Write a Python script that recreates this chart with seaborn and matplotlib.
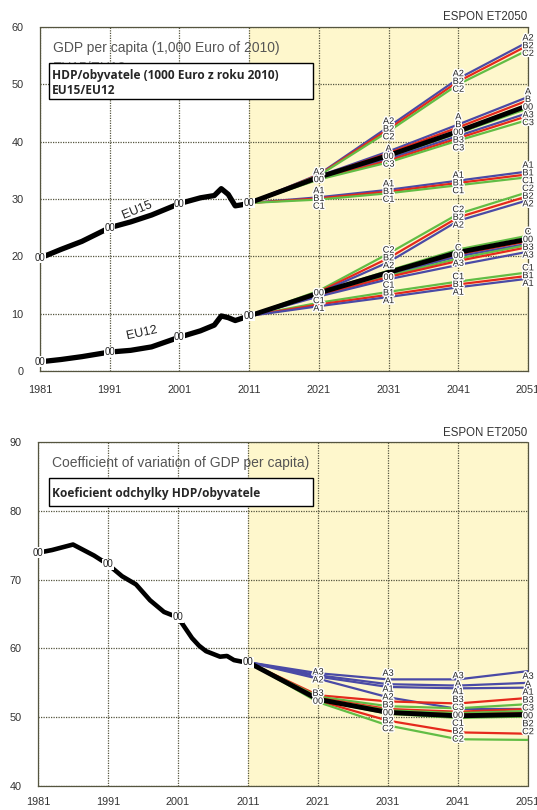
import numpy as np
import pandas as pd
import seaborn as sns
import matplotlib.pyplot as plt
import matplotlib.patheffects as pe
from matplotlib.patches import Rectangle

sns.set_style("white")
plt.rcParams['font.family'] = ['Liberation Sans', 'DejaVu Sans']

# historical GDP per capita (1000 Euro of 2010)
hist_years = [1981, 1984, 1987, 1991, 1994, 1997, 2001, 2004, 2006, 2007, 2008, 2009, 2010, 2011]
eu15_hist = [19.7, 21.2, 22.6, 25.0, 26.0, 27.2, 29.2, 30.2, 30.6, 31.8, 30.8, 28.8, 29.0, 29.3]
eu12_hist = [1.6, 2.0, 2.5, 3.3, 3.6, 4.2, 5.9, 7.0, 8.0, 9.6, 9.3, 8.8, 9.2, 9.6]

# scenario projections
proj_years = [2011, 2021, 2031, 2041, 2051]
eu15_proj = {
    "A2": [29.3, 34.3, 42.6, 51.0, 57.4],
    "B2": [29.3, 34.2, 42.2, 50.5, 56.8],
    "C2": [29.3, 34.1, 41.8, 50.0, 56.0],
    "A": [29.3, 34.0, 38.3, 43.0, 47.8],
    "B": [29.3, 33.9, 38.0, 42.5, 47.2],
    "C": [29.3, 33.7, 37.3, 41.5, 45.8],
    "A3": [29.3, 33.6, 37.0, 41.0, 45.0],
    "B3": [29.3, 33.5, 36.7, 40.6, 44.5],
    "C3": [29.3, 33.4, 36.4, 40.2, 43.8],
    "A1": [29.3, 30.3, 31.6, 33.2, 34.8],
    "B1": [29.3, 30.1, 31.3, 32.8, 34.3],
    "C1": [29.3, 29.9, 31.0, 32.4, 33.8],
    "00": [29.3, 33.8, 37.6, 41.8, 46.3],
}
eu12_proj = {
    "C2": [9.6, 14.0, 20.5, 27.4, 31.2],
    "B2": [9.6, 13.8, 19.7, 26.8, 30.5],
    "A2": [9.6, 13.6, 19.0, 26.2, 29.8],
    "C": [9.6, 13.7, 17.5, 21.2, 23.6],
    "B": [9.6, 13.5, 17.0, 20.3, 22.6],
    "A": [9.6, 13.4, 16.8, 20.0, 22.2],
    "C3": [9.6, 13.3, 16.6, 19.6, 22.0],
    "B3": [9.6, 13.2, 16.4, 19.2, 21.6],
    "A3": [9.6, 13.0, 16.0, 18.5, 20.8],
    "C1": [9.6, 11.9, 13.8, 15.6, 17.2],
    "B1": [9.6, 11.6, 13.3, 15.1, 16.6],
    "A1": [9.6, 11.3, 12.9, 14.6, 16.1],
    "00": [9.6, 13.6, 17.2, 20.7, 23.0],
}

# coefficient of variation of GDP per capita
cv_hist_years = [1981, 1983, 1986, 1989, 1991, 1993, 1995, 1997, 1999, 2001,
                 2002, 2003, 2004, 2005, 2006, 2007, 2008, 2009, 2010, 2011]
cv_hist = [73.9, 74.3, 75.1, 73.5, 72.2, 70.5, 69.3, 67.0, 65.3, 64.5,
           63.0, 61.5, 60.4, 59.6, 59.2, 58.8, 58.9, 58.3, 58.1, 58.0]
cv_proj = {
    "A3": [58.0, 56.4, 55.5, 55.5, 56.7],
    "A": [58.0, 56.1, 54.8, 54.6, 55.0],
    "A1": [58.0, 55.9, 54.4, 54.2, 54.3],
    "A2": [58.0, 55.6, 52.9, 51.2, 51.2],
    "B3": [58.0, 53.2, 52.3, 52.0, 52.8],
    "C3": [58.0, 53.0, 51.6, 51.3, 51.9],
    "B": [58.0, 52.8, 51.2, 50.8, 51.2],
    "C": [58.0, 52.7, 51.0, 50.6, 50.9],
    "B1": [58.0, 52.6, 50.8, 50.4, 50.6],
    "C1": [58.0, 52.5, 50.5, 49.9, 50.1],
    "B2": [58.0, 52.4, 49.5, 47.8, 47.6],
    "C2": [58.0, 52.2, 48.8, 46.8, 46.7],
    "00": [58.0, 52.6, 50.7, 50.2, 50.4],
}

# which labels are written next to the bundles, top to bottom
eu15_labels = {
    2021: [["A2", "00"], ["A1", "B1", "C1"]],
    2031: [["A2", "B2", "C2"], ["A", "00", "C3"], ["A1", "B1", "C1"]],
    2041: [["A2", "B2", "C2"], ["A", "B", "00", "B3", "C3"], ["A1", "B1", "C1"]],
    2051: [["A2", "B2", "C2"], ["A", "B", "00", "A3", "C3"], ["A1", "B1", "C1"]],
}
eu12_labels = {
    2021: [["00", "C1", "A1"]],
    2031: [["C2", "B2", "A2"], ["00", "C1", "B1", "A1"]],
    2041: [["C2", "B2", "A2"], ["C", "00", "A3"], ["C1", "B1", "A1"]],
    2051: [["C2", "B2", "A2"], ["C", "00", "B3", "A3"], ["C1", "B1", "A1"]],
}
cv_labels = {
    2021: [["A3", "A2"], ["B3", "00"]],
    2031: [["A3", "A", "A1", "A2", "B3", "00", "B2", "C2"]],
    2041: [["A3"], ["A", "A1", "B3", "C3", "00", "C1", "B2", "C2"]],
    2051: [["A3", "A", "A1", "B3", "C3", "00", "B2", "C2"]],
}

scen_colors = {"A": "#4a4aa6", "B": "#e5291c", "C": "#62bd45", "0": "black"}
bg_yellow = "#fef7cc"
grid_col = "#55553f"
halo = [pe.withStroke(linewidth=2, foreground="white")]
lab_font = ['Liberation Sans Narrow', 'Liberation Sans', 'DejaVu Sans']


def draw_scenarios(ax, proj):
    # coloured lines first, the reference run (00) on top
    for name, vals in proj.items():
        if name == "00":
            continue
        sns.lineplot(x=proj_years, y=vals, ax=ax, color=scen_colors[name[0]],
                     linewidth=1.6, zorder=3)
    sns.lineplot(x=proj_years, y=proj["00"], ax=ax, color="black",
                 linewidth=3.5, zorder=4)


def write_labels(ax, sets, gap):
    # sets: list of (projection dict, label dict); stacks are centred on
    # their bundle, then pushed upwards where two stacks collide
    for x in [2021, 2031, 2041, 2051]:
        i = proj_years.index(x)
        items = []
        for proj, labels in sets:
            for group in labels.get(x, []):
                mid = np.mean([proj[n][i] for n in group])
                n = len(group)
                for k, name in enumerate(group):
                    items.append([mid + gap * ((n - 1) / 2 - k), name])
        items.sort(key=lambda t: t[0])
        for j in range(1, len(items)):
            if items[j][0] < items[j - 1][0] + gap:
                items[j][0] = items[j - 1][0] + gap
        for y, name in items:
            ax.text(x, y, name, fontsize=6.6, family=lab_font,
                    ha="center", va="center", zorder=6, clip_on=False,
                    path_effects=halo)


def mark_history(ax, years, vals):
    lookup = dict(zip(years, vals))
    for x in [1981, 1991, 2001, 2011]:
        ax.text(x, lookup[x], "00", fontsize=7, family=lab_font, ha="center",
                va="center", zorder=6, clip_on=False,
                bbox=dict(fc="white", ec="none", pad=0.3))


def style_axes(ax, ylim, yticks, xpad):
    ax.axvspan(2011, 2051, color=bg_yellow, zorder=0, lw=0)
    ax.set_xlim(1981, 2051)
    ax.set_ylim(*ylim)
    ax.set_xticks(range(1981, 2052, 10))
    ax.set_yticks(yticks)
    ax.set_axisbelow(True)
    ax.grid(True, linestyle=(0, (1, 1)), color=grid_col, linewidth=0.9)
    for s in ax.spines.values():
        s.set_linestyle((0, (1, 1)))
        s.set_color(grid_col)
        s.set_linewidth(0.9)
    ax.tick_params(length=0, labelsize=7.8, colors="#333333")
    ax.tick_params(axis="x", pad=xpad)
    ax.tick_params(axis="y", pad=12)
    ax.set_xlabel("")
    ax.set_ylabel("")


fig = plt.figure(figsize=(5.37, 8.1), dpi=100)
ax1 = fig.add_axes([0.0745, 0.542, 0.9088, 0.4247])
ax2 = fig.add_axes([0.0708, 0.0296, 0.9125, 0.4247])

# top chart: GDP per capita
style_axes(ax1, (0, 60), range(0, 61, 10), 10)
sns.lineplot(x=hist_years, y=eu15_hist, ax=ax1, color="black", linewidth=3.8, zorder=4)
sns.lineplot(x=hist_years, y=eu12_hist, ax=ax1, color="black", linewidth=3.8, zorder=4)
draw_scenarios(ax1, eu15_proj)
draw_scenarios(ax1, eu12_proj)
write_labels(ax1, [(eu15_proj, eu15_labels), (eu12_proj, eu12_labels)], 1.35)
mark_history(ax1, hist_years, eu15_hist)
mark_history(ax1, hist_years, eu12_hist)
ax1.text(1994.9, 28.0, "EU15", fontsize=9, rotation=22, ha="center", va="center",
         path_effects=halo, zorder=6)
ax1.text(1995.6, 6.6, "EU12", fontsize=9, rotation=12, ha="center", va="center",
         path_effects=halo, zorder=6)

# bottom chart: coefficient of variation
style_axes(ax2, (40, 90), range(40, 91, 10), 8)
sns.lineplot(x=cv_hist_years, y=cv_hist, ax=ax2, color="black", linewidth=3.3, zorder=4)
draw_scenarios(ax2, cv_proj)
write_labels(ax2, [(cv_proj, cv_labels)], 1.15)
mark_history(ax2, cv_hist_years, cv_hist)

# titles, Czech captions in boxes, source tag
W, H = 537, 810
fig.text(53 / W, 1 - 48 / H, "GDP per capita (1,000 Euro of 2010)", fontsize=10,
         color="#555555", va="center", zorder=3)
fig.text(53 / W, 1 - 68 / H, "EU15/EU12", fontsize=10, color="#888888",
         va="center", zorder=3)
fig.patches.append(Rectangle((49 / W, 1 - 99 / H), 264 / W, 36 / H,
                             transform=fig.transFigure, fc="white", ec="black",
                             lw=1, zorder=5))
fig.text(52 / W, 1 - 75 / H, "HDP/obyvatele (1000 Euro z roku 2010)", fontsize=8.6,
         fontweight="bold", family="Open Sans", va="center", zorder=6)
fig.text(52 / W, 1 - 90 / H, "EU15/EU12", fontsize=8.6, fontweight="bold",
         family="Open Sans", va="center", zorder=6)
fig.text(527 / W, 1 - 17 / H, "ESPON ET2050", fontsize=8.3, color="#333333",
         ha="right", va="center")

fig.text(52 / W, 1 - 463 / H, "Coefficient of variation of GDP per capita)", fontsize=10,
         color="#555555", va="center", zorder=3)
fig.patches.append(Rectangle((49 / W, 1 - 506 / H), 264 / W, 28 / H,
                             transform=fig.transFigure, fc="white", ec="black",
                             lw=1, zorder=5))
fig.text(52 / W, 1 - 493 / H, "Koeficient odchylky HDP/obyvatele", fontsize=8.6,
         fontweight="bold", family="Open Sans", va="center", zorder=6)
fig.text(527 / W, 1 - 433 / H, "ESPON ET2050", fontsize=8.3, color="#333333",
         ha="right", va="center")

fig.savefig("out.png", dpi=100)
